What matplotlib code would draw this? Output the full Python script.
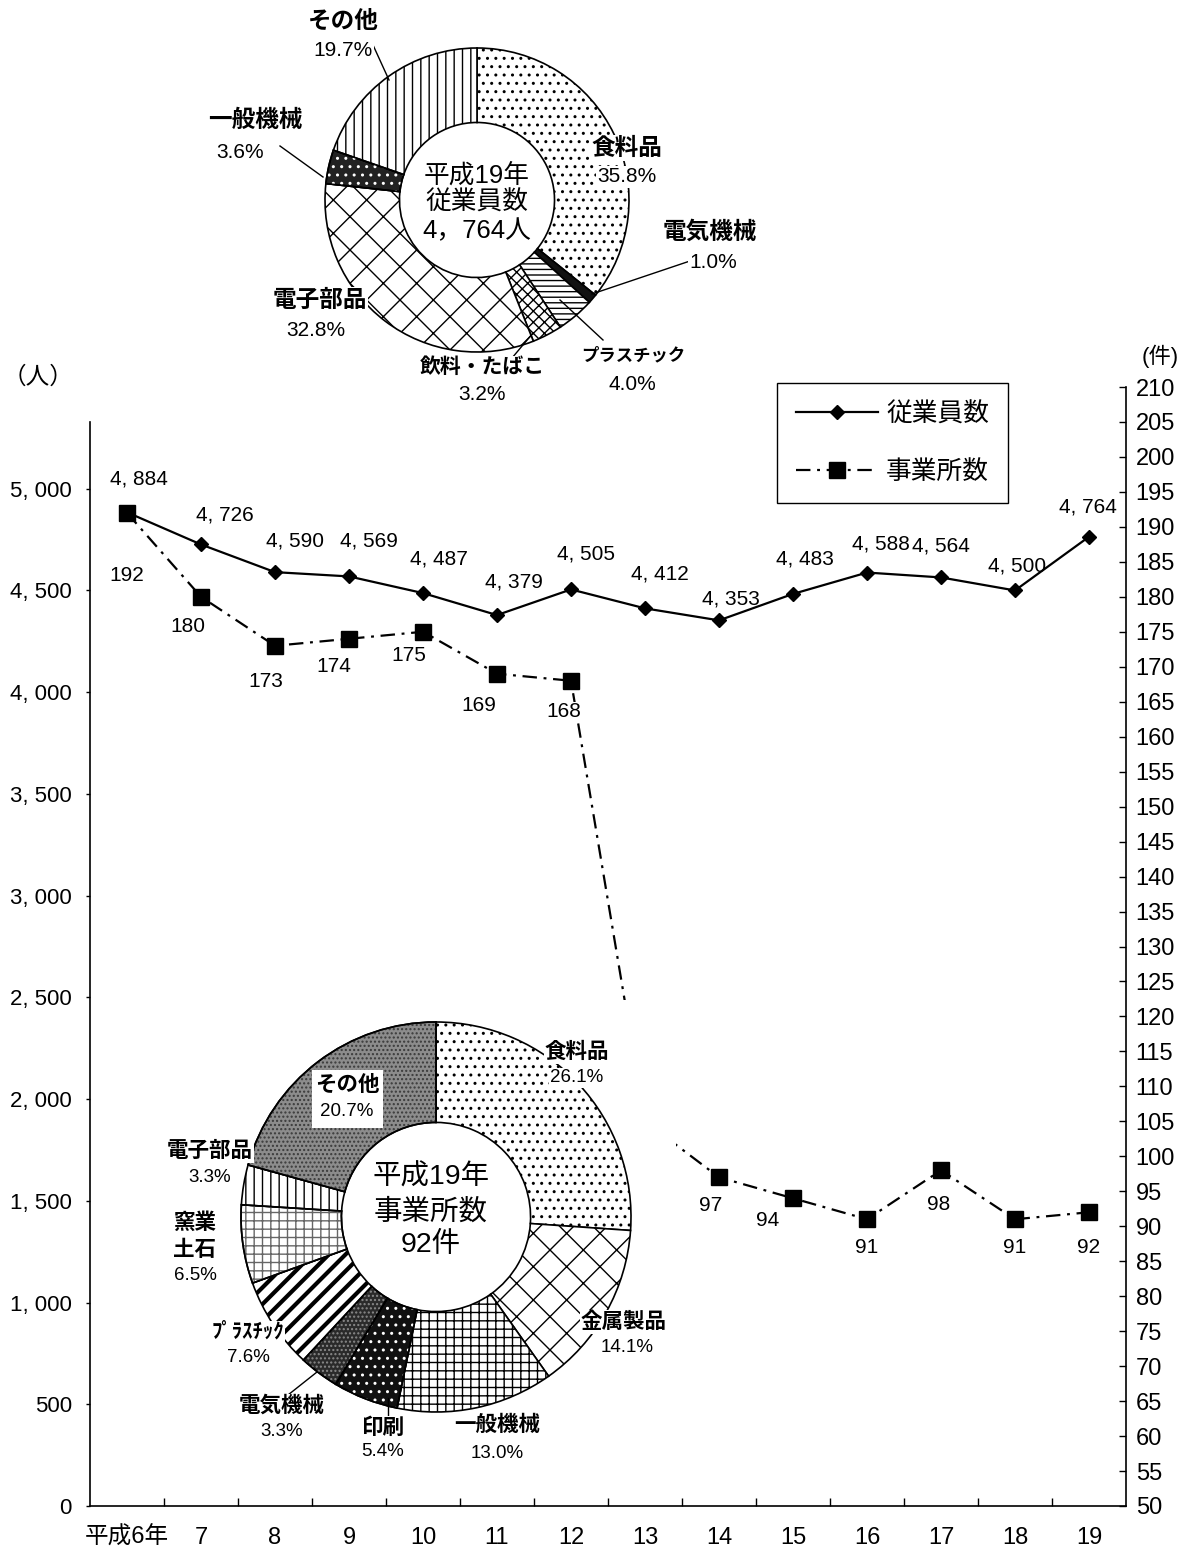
import matplotlib
matplotlib.use('Agg')
import matplotlib.pyplot as plt
from matplotlib.patches import Wedge, Rectangle
from matplotlib.lines import Line2D
import numpy as np

plt.rcParams['font.family'] = ['Liberation Sans', 'Noto Sans CJK JP', 'DejaVu Sans']
plt.rcParams['hatch.linewidth'] = 1.0

# ---------------- data ----------------
years = ['平成6年', '7', '8', '9', '10', '11', '12', '13', '14', '15', '16', '17', '18', '19']
employees = [4884, 4726, 4590, 4569, 4487, 4379, 4505, 4412, 4353, 4483, 4588, 4564, 4500, 4764]
establishments = [192, 180, 173, 174, 175, 169, 168, 105, 97, 94, 91, 98, 91, 92]
est_label_visible = [True, True, True, True, True, True, True, False, True, True, True, True, True, True]

emp_pie_names = ['食料品', '電気機械', 'プラスチック', '飲料・たばこ', '電子部品', '一般機械', 'その他']
emp_pie_shares = [35.8, 1.0, 4.0, 3.2, 32.8, 3.6, 19.7]
emp_total = 4764

est_pie_names = ['食料品', '金属製品', '一般機械', '印刷', '電気機械', 'プラスチック', '窯業土石', '電子部品', 'その他']
est_pie_shares = [26.1, 14.1, 13.0, 5.4, 3.3, 7.6, 6.5, 3.3, 20.7]
est_total = 92

left_ticks = list(range(0, 5001, 500))
right_ticks = list(range(50, 211, 5))

# ---------------- layout helpers (pixels) ----------------
W, H = 1192, 1557
fig = plt.figure(figsize=(W / 100, H / 100), dpi=100)


def fx(x):
    return x / W


def fy(y):
    return 1 - y / H


def px_rect(x0, y0, x1, y1):
    return [x0 / W, 1 - y1 / H, (x1 - x0) / W, (y1 - y0) / H]


def ptx(p):
    return p * 72 / 100


# ---------------- main axes ----------------
ax = fig.add_axes(px_rect(90, 387, 1126, 1506))
xs = np.arange(len(years))
ax.set_xlim(-0.5, len(years) - 0.5)
ax.set_ylim(0, 5500)
ax.plot(xs, employees, color='black', lw=1.6, marker='D', ms=7.5, zorder=3)
ax.set_yticks(left_ticks)
ax.set_yticklabels([f'{v:,}'.replace(',', ', ') for v in left_ticks])
ax.tick_params(axis='y', direction='out', length=3, width=1, pad=10, labelsize=16)
ax.set_xticks(xs)
ax.set_xticklabels(years)
ax.tick_params(axis='x', which='major', length=0, pad=15, labelsize=17)
ax.set_xticks(np.arange(0.5, len(years) - 1, 1), minor=True)
ax.tick_params(axis='x', which='minor', direction='in', length=6, width=1)
ax.spines['top'].set_visible(False)
ax.spines['right'].set_visible(False)
ax.spines['left'].set_bounds(0, 5330)
for s in ['left', 'bottom']:
    ax.spines[s].set_linewidth(1.2)

emp_offsets = [(12, -33), (24, -29), (20, -31), (20, -35), (16, -34), (17, -33), (15, -35),
               (15, -34), (12, -21), (12, -35), (14, -29), (0, -31), (2, -24), (-1, -30)]
for i, v in enumerate(employees):
    dx, dy = emp_offsets[i]
    ax.annotate(f'{v:,}'.replace(',', ', '), (xs[i], v), xytext=(ptx(dx), -ptx(dy)),
                textcoords='offset points', ha='center', va='center', fontsize=15)

ax2 = ax.twinx()
ax2.set_ylim(50, 210)
ax2.plot(xs, establishments, color='black', lw=1.6, ls=(0, (6.5, 3, 1.3, 3)),
         marker='s', ms=11, zorder=3)
ax2.set_yticks(right_ticks)
ax2.tick_params(axis='y', direction='in', length=5, width=1, pad=7, labelsize=17)
ax2.spines['top'].set_visible(False)
ax2.spines['left'].set_visible(False)
ax2.spines['bottom'].set_visible(False)
ax2.spines['right'].set_linewidth(1.2)

est_offsets = [(0, 63), (-13, 30), (-9, 36), (-15, 28), (-14, 24), (-18, 32), (-7, 31),
               (0, 30), (-8, 28), (-25, 22), (0, 28), (-2, 34), (0, 28), (0, 35)]
for i, v in enumerate(establishments):
    if not est_label_visible[i]:
        continue
    dx, dy = est_offsets[i]
    ax2.annotate(str(v), (xs[i], v), xytext=(ptx(dx), -ptx(dy)),
                 textcoords='offset points', ha='center', va='center', fontsize=15,
                 bbox=dict(facecolor='white', edgecolor='none', pad=0.5), zorder=4)

fig.text(fx(38), fy(378), '（人）', ha='center', va='center', fontsize=17)
fig.text(fx(1160), fy(356), '(件)', ha='center', va='center', fontsize=16)

# legend
h1 = Line2D([], [], color='black', lw=1.6, marker='D', ms=7.5)
h2 = Line2D([], [], color='black', lw=1.6, ls=(0, (6.5, 3, 1.3, 3)), marker='s', ms=11)
leg = fig.legend([h1, h2], ['従業員数', '事業所数'], loc='upper left',
                 bbox_to_anchor=(fx(777), fy(383)), bbox_transform=fig.transFigure,
                 frameon=True, fancybox=False, edgecolor='black', framealpha=1,
                 fontsize=18.5, handlelength=3.2, labelspacing=1.3, borderpad=0.75,
                 handletextpad=0.3, borderaxespad=0)
leg.get_frame().set_linewidth(1.0)


# ---------------- pies ----------------
def style_wedges(pax, wedges, styles):
    for w, (face, hatch, hcol, hlw) in zip(wedges, styles):
        w.set_facecolor(face)
        w.set_edgecolor('black')
        w.set_linewidth(1.2)
        if hatch is None:
            continue
        if hcol == 'black':
            w.set_hatch(hatch)
            if hlw:
                try:
                    w.set_hatch_linewidth(hlw)
                except AttributeError:
                    pass
        else:
            ov = Wedge(w.center, w.r, w.theta1, w.theta2, width=w.width,
                       facecolor='none', edgecolor=hcol, hatch=hatch, linewidth=0)
            pax.add_patch(ov)
            ol = Wedge(w.center, w.r, w.theta1, w.theta2, width=w.width,
                       fill=False, edgecolor='black', linewidth=1.2)
            pax.add_patch(ol)


# top pie: employees  (centre 477,200 ; R 152)
cx1, cy1, R1 = 477, 200, 152
pax1 = fig.add_axes(px_rect(cx1 - 165, cy1 - 165, cx1 + 165, cy1 + 165))
w1, _ = pax1.pie(emp_pie_shares, startangle=90, counterclock=False, radius=1,
                 wedgeprops=dict(width=0.49))
pax1.set_xlim(-165 / R1, 165 / R1)
pax1.set_ylim(-165 / R1, 165 / R1)
pax1.set_aspect('equal')
pax1.axis('off')
style_wedges(pax1, w1, [
    ('white', '..', 'black', None),
    ('#111111', None, None, None),
    ('white', '---', 'black', None),
    ('white', 'xxx', 'black', None),
    ('white', 'x', 'black', None),
    ('#222222', '..', 'white', None),
    ('white', '||', 'black', None),
])

# bottom pie: establishments (centre 436,1217 ; R 195), white plot area hides line behind
cx2, cy2, R2 = 436, 1217, 195
bx0, by0, bx1, by1 = 140, 1000, 676, 1470
pax2 = fig.add_axes(px_rect(bx0, by0, bx1, by1))
pax2.set_facecolor('white')
w2, _ = pax2.pie(est_pie_shares, startangle=90, counterclock=False, radius=1,
                 wedgeprops=dict(width=0.515))
pax2.set_xlim((bx0 - cx2) / R2, (bx1 - cx2) / R2)
pax2.set_ylim((cy2 - by1) / R2, (cy2 - by0) / R2)
pax2.set_aspect('auto')
for s in pax2.spines.values():
    s.set_visible(False)
pax2.set_xticks([])
pax2.set_yticks([])
pax2.set_frame_on(True)
pax2.patch.set_visible(True)
style_wedges(pax2, w2, [
    ('white', '..', 'black', None),
    ('white', 'x', 'black', None),
    ('white', '++', 'black', None),
    ('#111111', '..', 'white', None),
    ('#2a2a2a', '....', '#8a8a8a', None),
    ('white', '//', 'black', 3.0),
    ('white', '++', '#666666', None),
    ('white', '||', 'black', None),
    ('#8c8c8c', '....', '#3a3a3a', None),
])


# ---------------- pie labels ----------------
def label(x, y, s, size, bold=False, box=True):
    kw = {}
    if box:
        kw['bbox'] = dict(facecolor='white', edgecolor='none', pad=0.8)
    fig.text(fx(x), fy(y), s, ha='center', va='center', fontsize=size,
             fontweight='bold' if bold else 'normal', **kw)


def leader(x0, y0, x1, y1):
    fig.add_artist(Line2D([fx(x0), fx(x1)], [fy(y0), fy(y1)], transform=fig.transFigure,
                          color='black', lw=1.0, zorder=2))


# top pie labels
top_pos = {
    '食料品': ((627, 148), (627, 177), 17),
    '電気機械': ((710, 232), (713, 262), 17),
    'プラスチック': ((633, 355), (632, 384), 12.5),
    '飲料・たばこ': ((482, 367), (482, 395), 15),
    '電子部品': ((320, 300), (316, 330), 17),
    '一般機械': ((255, 120), (240, 153), 17),
    'その他': ((343, 21), (343, 51), 17),
}
leader(373, 45, 389, 80)
leader(280, 146, 323, 177)
leader(690, 261, 592, 294)
leader(603, 340, 560, 300)
leader(512, 358, 533, 333)
for name, share in zip(emp_pie_names, emp_pie_shares):
    (nx, ny), (px_, py_), sz = top_pos[name]
    label(nx, ny, name, sz, bold=True)
    label(px_, py_, f'{share:.1f}%', 15)

label(cx1, 175, '平成19年', 18.5, box=False)
label(cx1, 203, '従業員数', 18.5, box=False)
label(cx1, 231, f'{emp_total:,}人'.replace(',', '，'), 18.5, box=False)

# bottom pie labels
fig.add_artist(Rectangle((fx(312), fy(1128)), (383 - 312) / W, (1128 - 1070) / H,
                         transform=fig.transFigure, facecolor='white', edgecolor='none', zorder=2))
bot_pos = {
    '食料品': ((577, 1052), (577, 1078), 15.5),
    '金属製品': ((624, 1322), (627, 1348), 15.5),
    '一般機械': ((497, 1425), (497, 1453), 15.5),
    '印刷': ((383, 1428), (383, 1452), 15.5),
    '電気機械': ((282, 1406), (282, 1432), 15.5),
    'プラスチック': ((248, 1332), (248, 1358), 15.5),
    '窯業土石': ((195, 1223), (195, 1275), 15.5),
    '電子部品': ((210, 1151), (210, 1177), 15.5),
    'その他': ((347, 1085), (347, 1112), 15.5),
}
leader(388, 1398, 388, 1416)
leader(288, 1395, 317, 1372)
for name, share in zip(est_pie_names, est_pie_shares):
    (nx, ny), (px_, py_), sz = bot_pos[name]
    if name == '窯業土石':
        label(nx, ny, name[:2], sz, bold=True)
        label(nx, ny + 27, name[2:], sz, bold=True)
    elif name == 'プラスチック':
        label(nx, ny, 'ﾌﾟﾗｽﾁｯｸ', 15, bold=True)
    else:
        label(nx, ny, name, sz, bold=True)
    label(px_, py_, f'{share:.1f}%', 13.5)

label(431, 1177, '平成19年', 20.5, box=False)
label(431, 1212, '事業所数', 20.5, box=False)
label(431, 1245, f'{est_total}件', 20.5, box=False)

fig.savefig('out.png', dpi=100)
